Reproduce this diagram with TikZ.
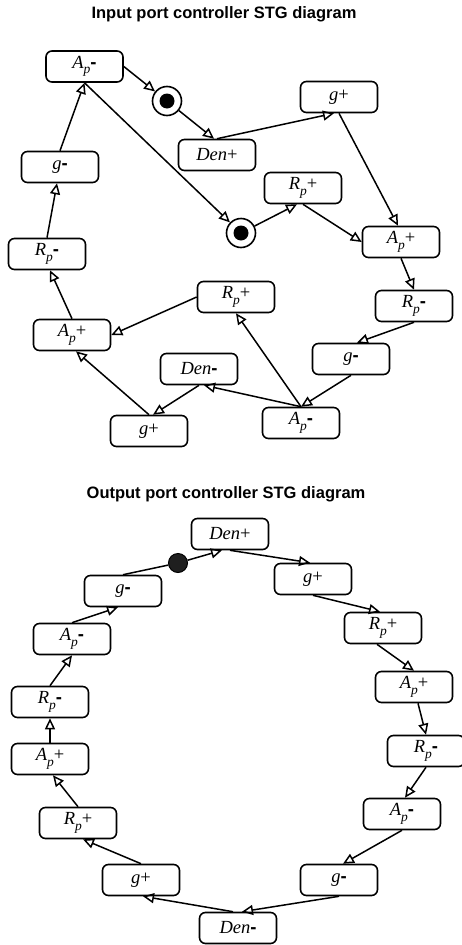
\documentclass[tikz,border=0pt]{standalone}
\usepackage{fontspec}
\setmainfont{Liberation Serif}
\newfontfamily\arialf{Liberation Sans}
\usetikzlibrary{arrows.meta}
\newcommand\lbSub[1]{\raisebox{-0.3em}{\fontsize{13.5}{13.5}\selectfont\itshape #1}}
\newcommand\lbMinus{{\arialf\bfseries -}}
\newcommand\lbPlus{{\upshape +}}
\newcommand\lbAp{{\itshape A}\lbSub{p}}
\newcommand\lbRp{{\itshape R}\lbSub{p}}
\newcommand\lbG{{\itshape g}}
\newcommand\lbDen{{\itshape Den}}
\begin{document}
\begin{tikzpicture}[x=1pt,y=-1pt,
  stgbox/.style={draw, line width=1.6pt, rounded corners=6pt, minimum width=77pt, minimum height=31pt, inner sep=0pt, font=\fontsize{18.5}{18.5}\selectfont},
  arr/.style={line width=1.5pt, -{Triangle[open,length=11pt,width=10pt,line width=1.5pt]}},
  ln/.style={line width=1.5pt},
  place/.style={circle, draw, line width=1.6pt, minimum size=29pt, inner sep=0pt},
  token/.style={circle, draw=black, fill=black!88, line width=1pt, minimum size=19pt, inner sep=0pt},
  ttl/.style={font=\arialf\bfseries\fontsize{16.5}{16.5}\selectfont}]
\useasboundingbox (0,0) rectangle (461,945);
% ---------- Input port controller ----------
\node[ttl] (t1) at (224,14) {Input port controller STG diagram};
\node[stgbox] (i_apm1) at (84.5,66.5) {\lbAp\lbMinus};
\node[place] (i_p1) at (167,101) {};
\fill (i_p1) circle (7.5pt);
\node[stgbox] (i_denp) at (217,155) {\lbDen\lbPlus};
\node[stgbox] (i_gp1) at (339,97) {\lbG\lbPlus};
\node[stgbox] (i_gm1) at (60,167) {\lbG\lbMinus};
\node[stgbox] (i_rpp1) at (303,188) {\lbRp\lbPlus};
\node[place] (i_p2) at (241,233) {};
\fill (i_p2) circle (7.5pt);
\node[stgbox] (i_app1) at (401,242) {\lbAp\lbPlus};
\node[stgbox] (i_rpm1) at (47,254) {\lbRp\lbMinus};
\node[stgbox] (i_rpp2) at (236,297) {\lbRp\lbPlus};
\node[stgbox] (i_rpm2) at (414,306) {\lbRp\lbMinus};
\node[stgbox] (i_app2) at (72,335) {\lbAp\lbPlus};
\node[stgbox] (i_gm2) at (351,359) {\lbG\lbMinus};
\node[stgbox] (i_denm) at (199,369) {\lbDen\lbMinus};
\node[stgbox] (i_gp2) at (149,431) {\lbG\lbPlus};
\node[stgbox] (i_apm2) at (301,423) {\lbAp\lbMinus};

\draw[arr] (i_apm1.east) -- (i_p1);
\draw[arr] (i_p1) -- ([xshift=-3pt]i_denp.north);
\draw[arr] (i_denp.north) -- ([xshift=-5pt]i_gp1.south);
\draw[arr] (i_gp1.south) -- ([xshift=-3pt]i_app1.north);
\draw[arr] (i_apm1.south) -- (i_p2);
\draw[arr] (i_p2) -- ([xshift=-6pt]i_rpp1.south);
\draw[arr] (i_rpp1.south) -- (i_app1.west);
\draw[arr] (i_gm1.north) -- (i_apm1.south);
\draw[arr] (i_rpm1.north) -- ([xshift=-3pt]i_gm1.south);
\draw[arr] (i_app2.north) -- ([xshift=3pt]i_rpm1.south);
\draw[arr] (i_rpp2.west) -- (i_app2.east);
\draw[arr] (i_gp2.north) -- ([xshift=4pt]i_app2.south);
\draw[arr] (i_denm.south) -- ([xshift=4pt]i_gp2.north);
\draw[arr] (i_apm2.north) -- ([xshift=5pt]i_denm.south);
\draw[arr] (i_apm2.north) -- (i_rpp2.south);
\draw[arr] (i_gm2.south) -- (i_apm2.north);
\draw[arr] (i_rpm2.south) -- ([xshift=6pt]i_gm2.north);
\draw[arr] (i_app1.south) -- (i_rpm2.north);

% ---------- Output port controller ----------
\node[ttl] (t2) at (226,494) {Output port controller STG diagram};
\node[stgbox] (o_denp) at (230,534) {\lbDen\lbPlus};
\node[token] (o_tok) at (178,563) {};
\node[stgbox] (o_gm1) at (123,591) {\lbG\lbMinus};
\node[stgbox] (o_gp1) at (313,579) {\lbG\lbPlus};
\node[stgbox] (o_apm1) at (72,639) {\lbAp\lbMinus};
\node[stgbox] (o_rpp1) at (383,628) {\lbRp\lbPlus};
\node[stgbox] (o_rpm1) at (50,702) {\lbRp\lbMinus};
\node[stgbox] (o_app1) at (414,687) {\lbAp\lbPlus};
\node[stgbox] (o_app2) at (50,759) {\lbAp\lbPlus};
\node[stgbox] (o_rpm2) at (426,751) {\lbRp\lbMinus};
\node[stgbox] (o_rpp2) at (78,823) {\lbRp\lbPlus};
\node[stgbox] (o_apm2) at (402,814) {\lbAp\lbMinus};
\node[stgbox] (o_gp2) at (141,880) {\lbG\lbPlus};
\node[stgbox] (o_gm2) at (339,880) {\lbG\lbMinus};
\node[stgbox] (o_denm) at (238,928) {\lbDen\lbMinus};

\draw[ln] (o_gm1.north) -- (o_tok);
\draw[arr] (o_tok) -- ([xshift=-8pt]o_denp.south);
\draw[arr] (o_denp.south) -- ([xshift=-3pt]o_gp1.north);
\draw[arr] (o_gp1.south) -- ([xshift=-3pt]o_rpp1.north);
\draw[arr] ([xshift=-6pt]o_rpp1.south) -- (o_app1.north);
\draw[arr] ([xshift=4pt]o_app1.south) -- (o_rpm2.north);
\draw[arr] (o_rpm2.south) -- ([xshift=3pt]o_apm2.north);
\draw[arr] (o_apm2.south) -- ([xshift=4pt]o_gm2.north);
\draw[arr] (o_gm2.south) -- ([xshift=4pt]o_denm.north);
\draw[arr] ([xshift=-5pt]o_denm.north) -- ([xshift=2pt]o_gp2.south);
\draw[arr] (o_gp2.north) -- ([xshift=5pt]o_rpp2.south);
\draw[arr] (o_rpp2.north) -- ([xshift=3pt]o_app2.south);
\draw[arr] (o_app2.north) -- (o_rpm1.south);
\draw[arr] (o_rpm1.north) -- (o_apm1.south);
\draw[arr] (o_apm1.north) -- ([xshift=-5pt]o_gm1.south);
\end{tikzpicture}
\end{document}
